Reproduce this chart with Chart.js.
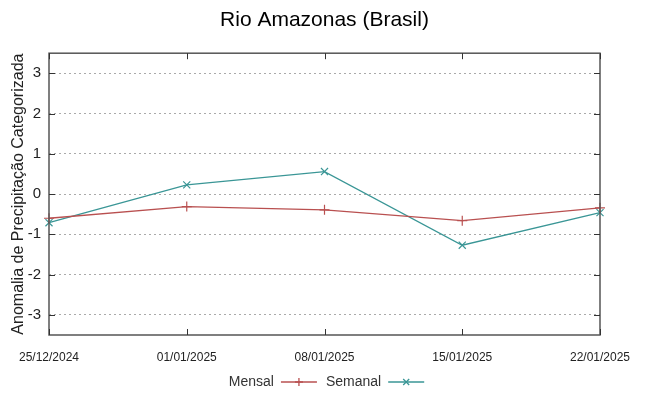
<!DOCTYPE html>
<html>
<head>
<meta charset="utf-8">
<script src="https://cdn.jsdelivr.net/npm/chart.js@4.4.1/dist/chart.umd.min.js"></script>
<style>
  html, body { margin: 0; padding: 0; background: #fff; }
  #wrap { width: 649px; height: 396px; }
</style>
</head>
<body>
<div id="wrap"><canvas id="chart"></canvas></div>
<script>
const dates = ['25/12/2024', '01/01/2025', '08/01/2025', '15/01/2025', '22/01/2025'];
const mensal = [-0.60, -0.31, -0.39, -0.66, -0.34];
const semanal = [-0.71, 0.23, 0.56, -1.27, -0.46];
const yTickValues = [-3, -2, -1, 0, 1, 2, 3];

const redColor = 'rgb(185, 80, 80)';
const tealColor = 'rgb(58, 150, 150)';
const fontName = '"Liberation Sans", Arial, sans-serif';

// gnuplot style frame, inward ticks and the key under the plot
const framePlugin = {
    id: 'frame',
    afterDraw(chart) {
        const ctx = chart.ctx;
        const a = chart.chartArea;
        const x = chart.scales.x, y = chart.scales.y;
        ctx.save();
        ctx.strokeStyle = '#555';
        ctx.lineWidth = 1.5;
        ctx.strokeRect(a.left, a.top, a.right - a.left, a.bottom - a.top);
        ctx.lineWidth = 1;
        ctx.strokeStyle = '#333';
        y.ticks.forEach(t => {
            const py = Math.round(y.getPixelForValue(t.value)) + 0.5;
            ctx.beginPath();
            ctx.moveTo(a.left, py); ctx.lineTo(a.left + 6, py);
            ctx.moveTo(a.right, py); ctx.lineTo(a.right - 6, py);
            ctx.stroke();
        });
        dates.forEach((d, i) => {
            const px = Math.round(x.getPixelForValue(i)) + 0.5;
            ctx.beginPath();
            ctx.moveTo(px, a.bottom); ctx.lineTo(px, a.bottom - 6);
            ctx.moveTo(px, a.top); ctx.lineTo(px, a.top + 6);
            ctx.stroke();
        });

        // key
        ctx.font = '14px ' + fontName;
        ctx.textBaseline = 'middle';
        const ly = 382;
        const items = chart.data.datasets.map(ds => ({label: ds.label, color: ds.borderColor, style: ds.pointStyle}));
        let total = 0;
        items.forEach((it, i) => { total += ctx.measureText(it.label).width + 7 + 36 + (i < items.length - 1 ? 9 : 0); });
        let lx = (a.left + a.right) / 2 - total / 2 + 2;
        items.forEach(it => {
            ctx.fillStyle = '#333';
            ctx.fillText(it.label, lx, ly);
            lx += ctx.measureText(it.label).width + 7;
            ctx.strokeStyle = it.color;
            ctx.lineWidth = 1.3;
            ctx.beginPath();
            ctx.moveTo(lx, ly); ctx.lineTo(lx + 36, ly);
            ctx.stroke();
            const cx = lx + 18;
            ctx.beginPath();
            if (it.style === 'cross') {
                ctx.moveTo(cx - 4, ly); ctx.lineTo(cx + 4, ly);
                ctx.moveTo(cx, ly - 4); ctx.lineTo(cx, ly + 4);
            } else {
                ctx.moveTo(cx - 3, ly - 3); ctx.lineTo(cx + 3, ly + 3);
                ctx.moveTo(cx - 3, ly + 3); ctx.lineTo(cx + 3, ly - 3);
            }
            ctx.stroke();
            lx += 36 + 9;
        });
        ctx.restore();
    }
};

new Chart(document.getElementById('chart'), {
    type: 'line',
    data: {
        labels: dates,
        datasets: [{
            label: 'Mensal',
            data: mensal,
            borderColor: redColor,
            backgroundColor: redColor,
            borderWidth: 1.3,
            pointStyle: 'cross',
            pointRadius: 5,
            pointBorderWidth: 1.2,
            tension: 0
        }, {
            label: 'Semanal',
            data: semanal,
            borderColor: tealColor,
            backgroundColor: tealColor,
            borderWidth: 1.3,
            pointStyle: 'crossRot',
            pointRadius: 5,
            pointBorderWidth: 1.2,
            tension: 0
        }]
    },
    options: {
        responsive: true,
        maintainAspectRatio: false,
        animation: false,
        layout: { padding: 0 },
        plugins: {
            legend: { display: false },
            tooltip: { enabled: false },
            title: {
                display: true,
                text: 'Rio Amazonas (Brasil)',
                color: '#000',
                font: { family: fontName, size: 21, weight: 'normal' },
                padding: { top: 8, bottom: 20 }
            }
        },
        scales: {
            x: {
                type: 'category',
                offset: false,
                grid: { display: false, drawTicks: false },
                border: { display: false },
                ticks: {
                    color: '#222',
                    font: { family: fontName, size: 12 },
                    maxRotation: 0,
                    autoSkip: false,
                    padding: 15
                },
                afterFit: s => { s.height = 61; }
            },
            y: {
                min: -3.5,
                max: 3.5,
                afterBuildTicks: s => { s.ticks = yTickValues.map(v => ({ value: v })); },
                grid: {
                    color: '#aaa',
                    lineWidth: 1,
                    drawTicks: false
                },
                border: { display: false, dash: [2, 3] },
                ticks: {
                    color: '#222',
                    font: { family: fontName, size: 15 },
                    padding: 8
                },
                title: {
                    display: true,
                    text: 'Anomalia de Precipitação Categorizada',
                    color: '#222',
                    font: { family: fontName, size: 16 },
                    padding: { top: 9, bottom: 0 }
                },
                afterFit: s => { s.width = 49; }
            },
            y2: {
                position: 'right',
                min: -3.5,
                max: 3.5,
                grid: { display: false, drawTicks: false },
                border: { display: false },
                ticks: { display: false },
                afterFit: s => { s.width = 49; }
            }
        }
    },
    plugins: [framePlugin]
});
</script>
</body>
</html>
